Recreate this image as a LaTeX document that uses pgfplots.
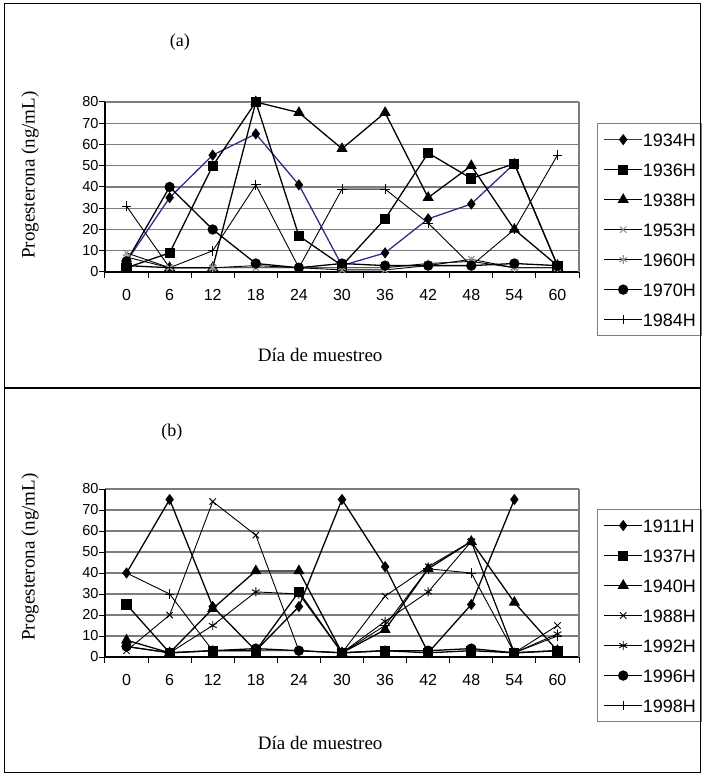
\documentclass[border=0pt]{standalone}
\usepackage{fontspec}
\setmainfont{Liberation Serif}
\newfontfamily\arial{Liberation Sans}
\usepackage{pgfplots}
\pgfplotsset{compat=1.18}
\definecolor{navy}{RGB}{45,45,140}
\definecolor{gridgray}{RGB}{125,125,125}
\definecolor{markgray}{RGB}{150,150,150}

\pgfplotsset{
 panel/.style={
  scale only axis, width=474pt,
  xmin=-0.5, xmax=10.5, ymin=0, ymax=80,
  axis lines=left, axis line style={-, black, line width=1.2pt},
  xtick={-0.5,0.5,...,10.5},
  xticklabels={0,6,12,18,24,30,36,42,48,54,60},
  x tick label as interval,
  ytick={0,10,...,80},
  ymajorgrids, grid style={gridgray, line width=1.1pt},
  tick align=outside, major tick length=6pt,
  tick style={black, line width=1pt},
  /pgf/number format/assume math mode=true,
  yticklabel style={font=\fontsize{14.5}{14.5}\selectfont\arial, xshift=3pt},
  xticklabel style={font=\fontsize{16}{16}\selectfont\arial, yshift=-8pt},
  label style={font=\fontsize{19}{19}\selectfont},
  title style={font=\fontsize{18}{18}\selectfont},
  every axis plot/.append style={line width=1.3pt},
  legend style={font=\fontsize{18}{18}\selectfont\arial, draw=gray, line width=1.1pt,
     anchor=north west, inner xsep=6pt, inner ysep=9.5pt, row sep=17pt,
     nodes={inner sep=0pt, text height=13pt, text depth=0pt},
     /tikz/every odd column/.append style={column sep=0pt}},
  legend cell align=left,
  legend image code/.code={\draw[mark repeat=2,mark phase=2] plot coordinates {(0pt,0pt) (19pt,0pt) (38pt,0pt)};},
  after end axis/.code={\draw[gridgray, line width=1.1pt] (rel axis cs:1,0) -- (rel axis cs:1,1);},
 },
 sA/.style={navy, mark=diamond*, mark size=4.6pt, mark options={black, fill=black, solid}},
 sB/.style={black, mark=square*, mark size=4.4pt, mark options={black, fill=black}},
 sC/.style={black, mark=triangle*, mark size=5.2pt, mark options={black, fill=black}},
 sD/.style={black, line width=0.9pt, mark=x, mark size=4.5pt, mark options={markgray, line width=1.1pt}},
 sE/.style={black, line width=0.9pt, mark=asterisk, mark size=4.5pt, mark options={markgray, line width=1.1pt}},
 sF/.style={black, mark=*, mark size=4.5pt, mark options={black, fill=black}},
 sG/.style={black, line width=0.9pt, mark=+, mark size=4.8pt, mark options={black, line width=0.9pt}},
}

\begin{document}
\begin{tikzpicture}
\useasboundingbox (0pt,0pt) rectangle (703pt,777pt);

% Panel (a)
\begin{axis}[panel, height=170pt, at={(105pt,505pt)}, anchor=south west,
  title={(a)}, title style={at={(0.158,1.315)}, anchor=center},
  xlabel={Día de muestreo}, xlabel style={at={(0.454,-0.49)}, anchor=center},
  ylabel={Progesterona (ng/mL)}, ylabel style={at={(-0.158,0.57)}, anchor=center, rotate=0},
  legend style={at={(1.038,0.876)}}]
\addplot[sA] coordinates {(0,5) (1,35) (2,55) (3,65) (4,41) (5,3) (6,9) (7,25) (8,32) (9,51) (10,3)};
\addplot[sB] coordinates {(0,2) (1,9) (2,50) (3,80) (4,17) (5,3) (6,25) (7,56) (8,44) (9,51) (10,3)};
\addplot[sC] coordinates {(0,3) (1,2) (2,2) (3,80) (4,75) (5,58) (6,75) (7,35) (8,50) (9,20) (10,3)};
\addplot[sD] coordinates {(0,9) (1,2) (2,2) (3,2) (4,2) (5,1) (6,1) (7,3) (8,6) (9,2) (10,2)};
\addplot[sE] coordinates {(0,7) (1,2) (2,2) (3,3) (4,2) (5,2) (6,2) (7,4) (8,5) (9,2) (10,2)};
\addplot[sF] coordinates {(0,5) (1,40) (2,20) (3,4) (4,2) (5,4) (6,3) (7,3) (8,3) (9,4) (10,3)};
\addplot[sG] coordinates {(0,31) (1,2) (2,10) (3,41) (4,2) (5,39) (6,39) (7,23) (8,3) (9,20) (10,55)};
\legend{1934H,1936H,1938H,1953H,1960H,1970H,1984H}
\end{axis}

% Panel (b)
\begin{axis}[panel, height=168pt, at={(105pt,120pt)}, anchor=south west,
  title={(b)}, title style={at={(0.141,1.30)}, anchor=center},
  xlabel={Día de muestreo}, xlabel style={at={(0.454,-0.512)}, anchor=center},
  ylabel={Progesterona (ng/mL)}, ylabel style={at={(-0.158,0.595)}, anchor=center, rotate=0},
  legend style={at={(1.038,0.881)}}]
\addplot[sA, black] coordinates {(0,40) (1,75) (2,24) (3,3) (4,24) (5,75) (6,43) (7,2) (8,25) (9,75)};
\addplot[sB] coordinates {(0,25) (1,2) (2,3) (3,3) (4,31) (5,2) (6,3) (7,2) (8,3) (9,2) (10,3)};
\addplot[sC] coordinates {(0,8) (1,2) (2,23) (3,41) (4,41) (5,2) (6,13) (7,42) (8,55) (9,26) (10,3)};
\addplot[sD, mark options={black}] coordinates {(0,3) (1,20) (2,74) (3,58) (4,3) (5,2) (6,29) (7,43) (8,55) (9,2) (10,15)};
\addplot[sE, mark options={black}] coordinates {(0,5) (1,2) (2,15) (3,31) (4,30) (5,2) (6,17) (7,31) (8,55) (9,2) (10,11)};
\addplot[sF] coordinates {(0,5) (1,2) (2,3) (3,4) (4,3) (5,2) (6,3) (7,3) (8,4) (9,2) (10,3)};
\addplot[sG] coordinates {(0,40) (1,30) (2,3) (3,3) (4,3) (5,2) (6,15) (7,42) (8,40) (9,2) (10,10)};
\legend{1911H,1937H,1940H,1988H,1992H,1996H,1998H}
\end{axis}

% panel frames
\draw[black, line width=1pt] (4pt,4pt) rectangle (700pt,773pt);
\draw[black, line width=1.6pt] (4pt,389pt) -- (700pt,389pt);
\end{tikzpicture}
\end{document}
